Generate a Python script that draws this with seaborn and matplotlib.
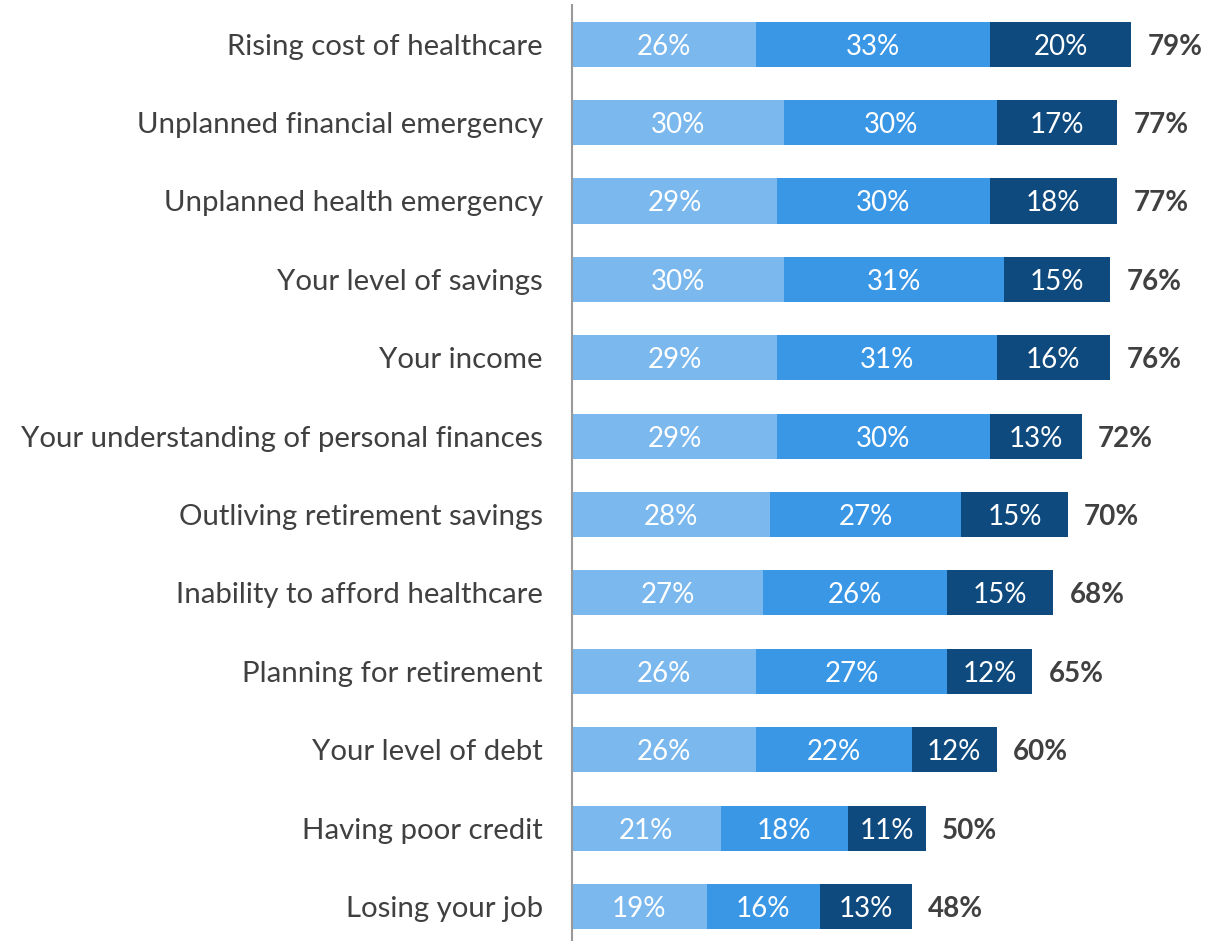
import matplotlib
matplotlib.use("Agg")
import matplotlib.pyplot as plt
import seaborn as sns
import numpy as np
import pandas as pd

categories = [
    "Rising cost of healthcare",
    "Unplanned financial emergency",
    "Unplanned health emergency",
    "Your level of savings",
    "Your income",
    "Your understanding of personal finances",
    "Outliving retirement savings",
    "Inability to afford healthcare",
    "Planning for retirement",
    "Your level of debt",
    "Having poor credit",
    "Losing your job",
]
somewhat = [26, 30, 29, 30, 29, 29, 28, 27, 26, 26, 21, 19]
very = [33, 30, 30, 31, 31, 30, 27, 26, 27, 22, 18, 16]
extremely = [20, 17, 18, 15, 16, 13, 15, 15, 12, 12, 11, 13]
totals = [79, 77, 77, 76, 76, 72, 70, 68, 65, 60, 50, 48]

colors = ["#7AB8EE", "#3A97E6", "#0E4A7E"]
text_color = "#404040"

df = pd.DataFrame({"category": categories, "s1": somewhat, "s2": very, "s3": extremely})
df["c1"] = df["s1"]
df["c2"] = df["s1"] + df["s2"]
df["c3"] = df["c2"] + df["s3"]

sns.set_style("white")
plt.rcParams["font.family"] = ["Lato", "DejaVu Sans"]

fig = plt.figure(figsize=(12.07, 9.41), dpi=100)
ax = fig.add_axes([572 / 1207, 0, 1 - 572 / 1207, 1 - 5 / 941])

# stacked bars: draw cumulative sums back to front
for col, c in zip(["c3", "c2", "c1"], colors[::-1]):
    sns.barplot(data=df, x=col, y="category", color=c, width=0.575,
                saturation=1, ax=ax, edgecolor="none", linewidth=0)

for i in range(len(categories)):
    starts = [0, df["c1"][i], df["c2"][i]]
    for start, val in zip(starts, [somewhat[i], very[i], extremely[i]]):
        ax.text(start + val / 2, i, f"{val}%", ha="center", va="center_baseline",
                color="white", fontsize=20)
    ax.text(df["c3"][i] + 2.3, i, f"{totals[i]}%", ha="left", va="center_baseline",
            color=text_color, fontsize=20, fontweight="bold")

ax.set_xlim(0, 89.7)
ax.set_ylim(11.44, -0.5)
ax.set_xlabel("")
ax.set_ylabel("")
ax.set_xticks([])
sns.despine(ax=ax, top=True, right=True, bottom=True, left=False)
ax.spines["left"].set_color("#999999")
ax.spines["left"].set_linewidth(1.5)
ax.tick_params(axis="y", length=0, pad=21, labelsize=21.2, labelcolor=text_color)

fig.savefig("out.png", dpi=100)
